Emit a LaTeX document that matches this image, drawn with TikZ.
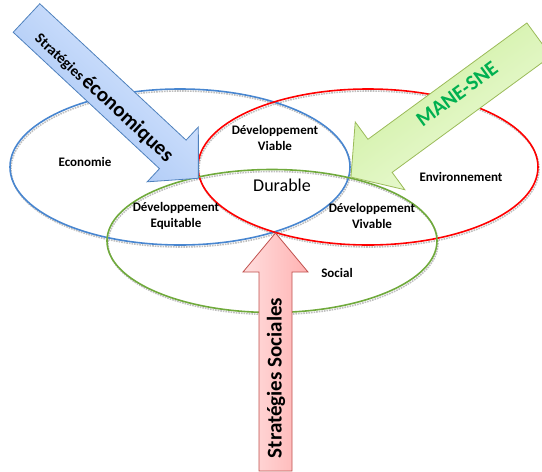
\documentclass[tikz,border=0pt]{standalone}
\usepackage{fontspec}
\setmainfont{Carlito}
\definecolor{econ}{RGB}{72,134,208}
\definecolor{envr}{RGB}{255,0,0}
\definecolor{soc}{RGB}{112,170,60}
\definecolor{blueA}{RGB}{222,234,255}
\definecolor{blueB}{RGB}{160,193,243}
\definecolor{blueE}{RGB}{79,129,189}
\definecolor{greenA}{RGB}{240,252,222}
\definecolor{greenB}{RGB}{203,238,155}
\definecolor{greenE}{RGB}{155,187,89}
\definecolor{greenT}{RGB}{0,176,80}
\definecolor{pinkA}{RGB}{255,222,222}
\definecolor{pinkB}{RGB}{255,178,178}
\definecolor{pinkE}{RGB}{192,80,77}
\newcommand\blockarrow[7]{%
  \begin{scope}[shift={#1}, rotate=#2]
    \path[#7] (0,-#4) -- ({#3-#6},-#4) -- ({#3-#6},-#5) -- (#3,0)
      -- ({#3-#6},#5) -- ({#3-#6},#4) -- (0,#4) -- cycle;
  \end{scope}}
\begin{document}
\begin{tikzpicture}[x=1pt,y=-1pt,
  ell/.style={line width=1.6pt},
  shadowell/.style={line width=1.6pt, gray!50, densely dotted},
  lbl/.style={font=\bfseries\fontsize{13}{15.5}\selectfont, align=center, inner sep=0pt},
  bluearrow/.style={draw=blueE, line width=0.8pt, top color=blueA, bottom color=blueB, shading angle=-43},
  greenarrow/.style={draw=greenE, line width=0.8pt, top color=greenB, bottom color=greenA, shading angle=36},
  pinkarrow/.style={draw=pinkE, line width=0.8pt, left color=pinkA, right color=pinkB},
]
\useasboundingbox (0,0) rectangle (542,472);
% shadows
\draw[shadowell] (181,169) ellipse [x radius=170, y radius=78];
\draw[shadowell] (369,169) ellipse [x radius=170, y radius=78];
\draw[shadowell] (273,243) ellipse [x radius=165, y radius=71.5];
% ellipses
\draw[ell, econ] (180,167) ellipse [x radius=170, y radius=78];
\draw[ell, envr] (368,167) ellipse [x radius=170, y radius=78];
\draw[ell, soc] (272,241) ellipse [x radius=165, y radius=71.5];
% labels
\node[lbl] (economie) at (85,162) {Economie};
\node[lbl] (viable) at (275,138) {Développement\\Viable};
\node[inner sep=0pt, font=\fontsize{18}{20}\selectfont] (durable) at (282,185) {Durable};
\node[lbl] (equitable) at (176,216) {Développement\\Equitable};
\node[lbl] (vivable) at (372,216) {Développement\\Vivable};
\node[lbl] (env) at (461,177) {Environnement};
\node[lbl] (social) at (337,273) {Social};
% block arrows
\blockarrow{(26.5,18)}{-43}{235}{19.5}{37.5}{35}{bluearrow}
\blockarrow{(539,39.5)}{216.2}{233}{20.5}{42}{36}{greenarrow}
\blockarrow{(275.5,471)}{90}{238}{16.5}{32.5}{39}{pinkarrow}
% arrow texts
\node[rotate=-43, inner sep=0pt, font=\bfseries] (strateco) at (104,97)
  {{\fontsize{15}{16}\selectfont Stratégies} {\fontsize{21}{22}\selectfont économiques}};
\node[rotate=36.2, inner sep=0pt, text=greenT, font=\bfseries\fontsize{21}{22}\selectfont] (mane) at (457,94) {MANE-SNE};
\node[rotate=90, inner sep=0pt, font=\bfseries\fontsize{21}{22}\selectfont] (stratsoc) at (276,378) {Stratégies Sociales};
\end{tikzpicture}
\end{document}
